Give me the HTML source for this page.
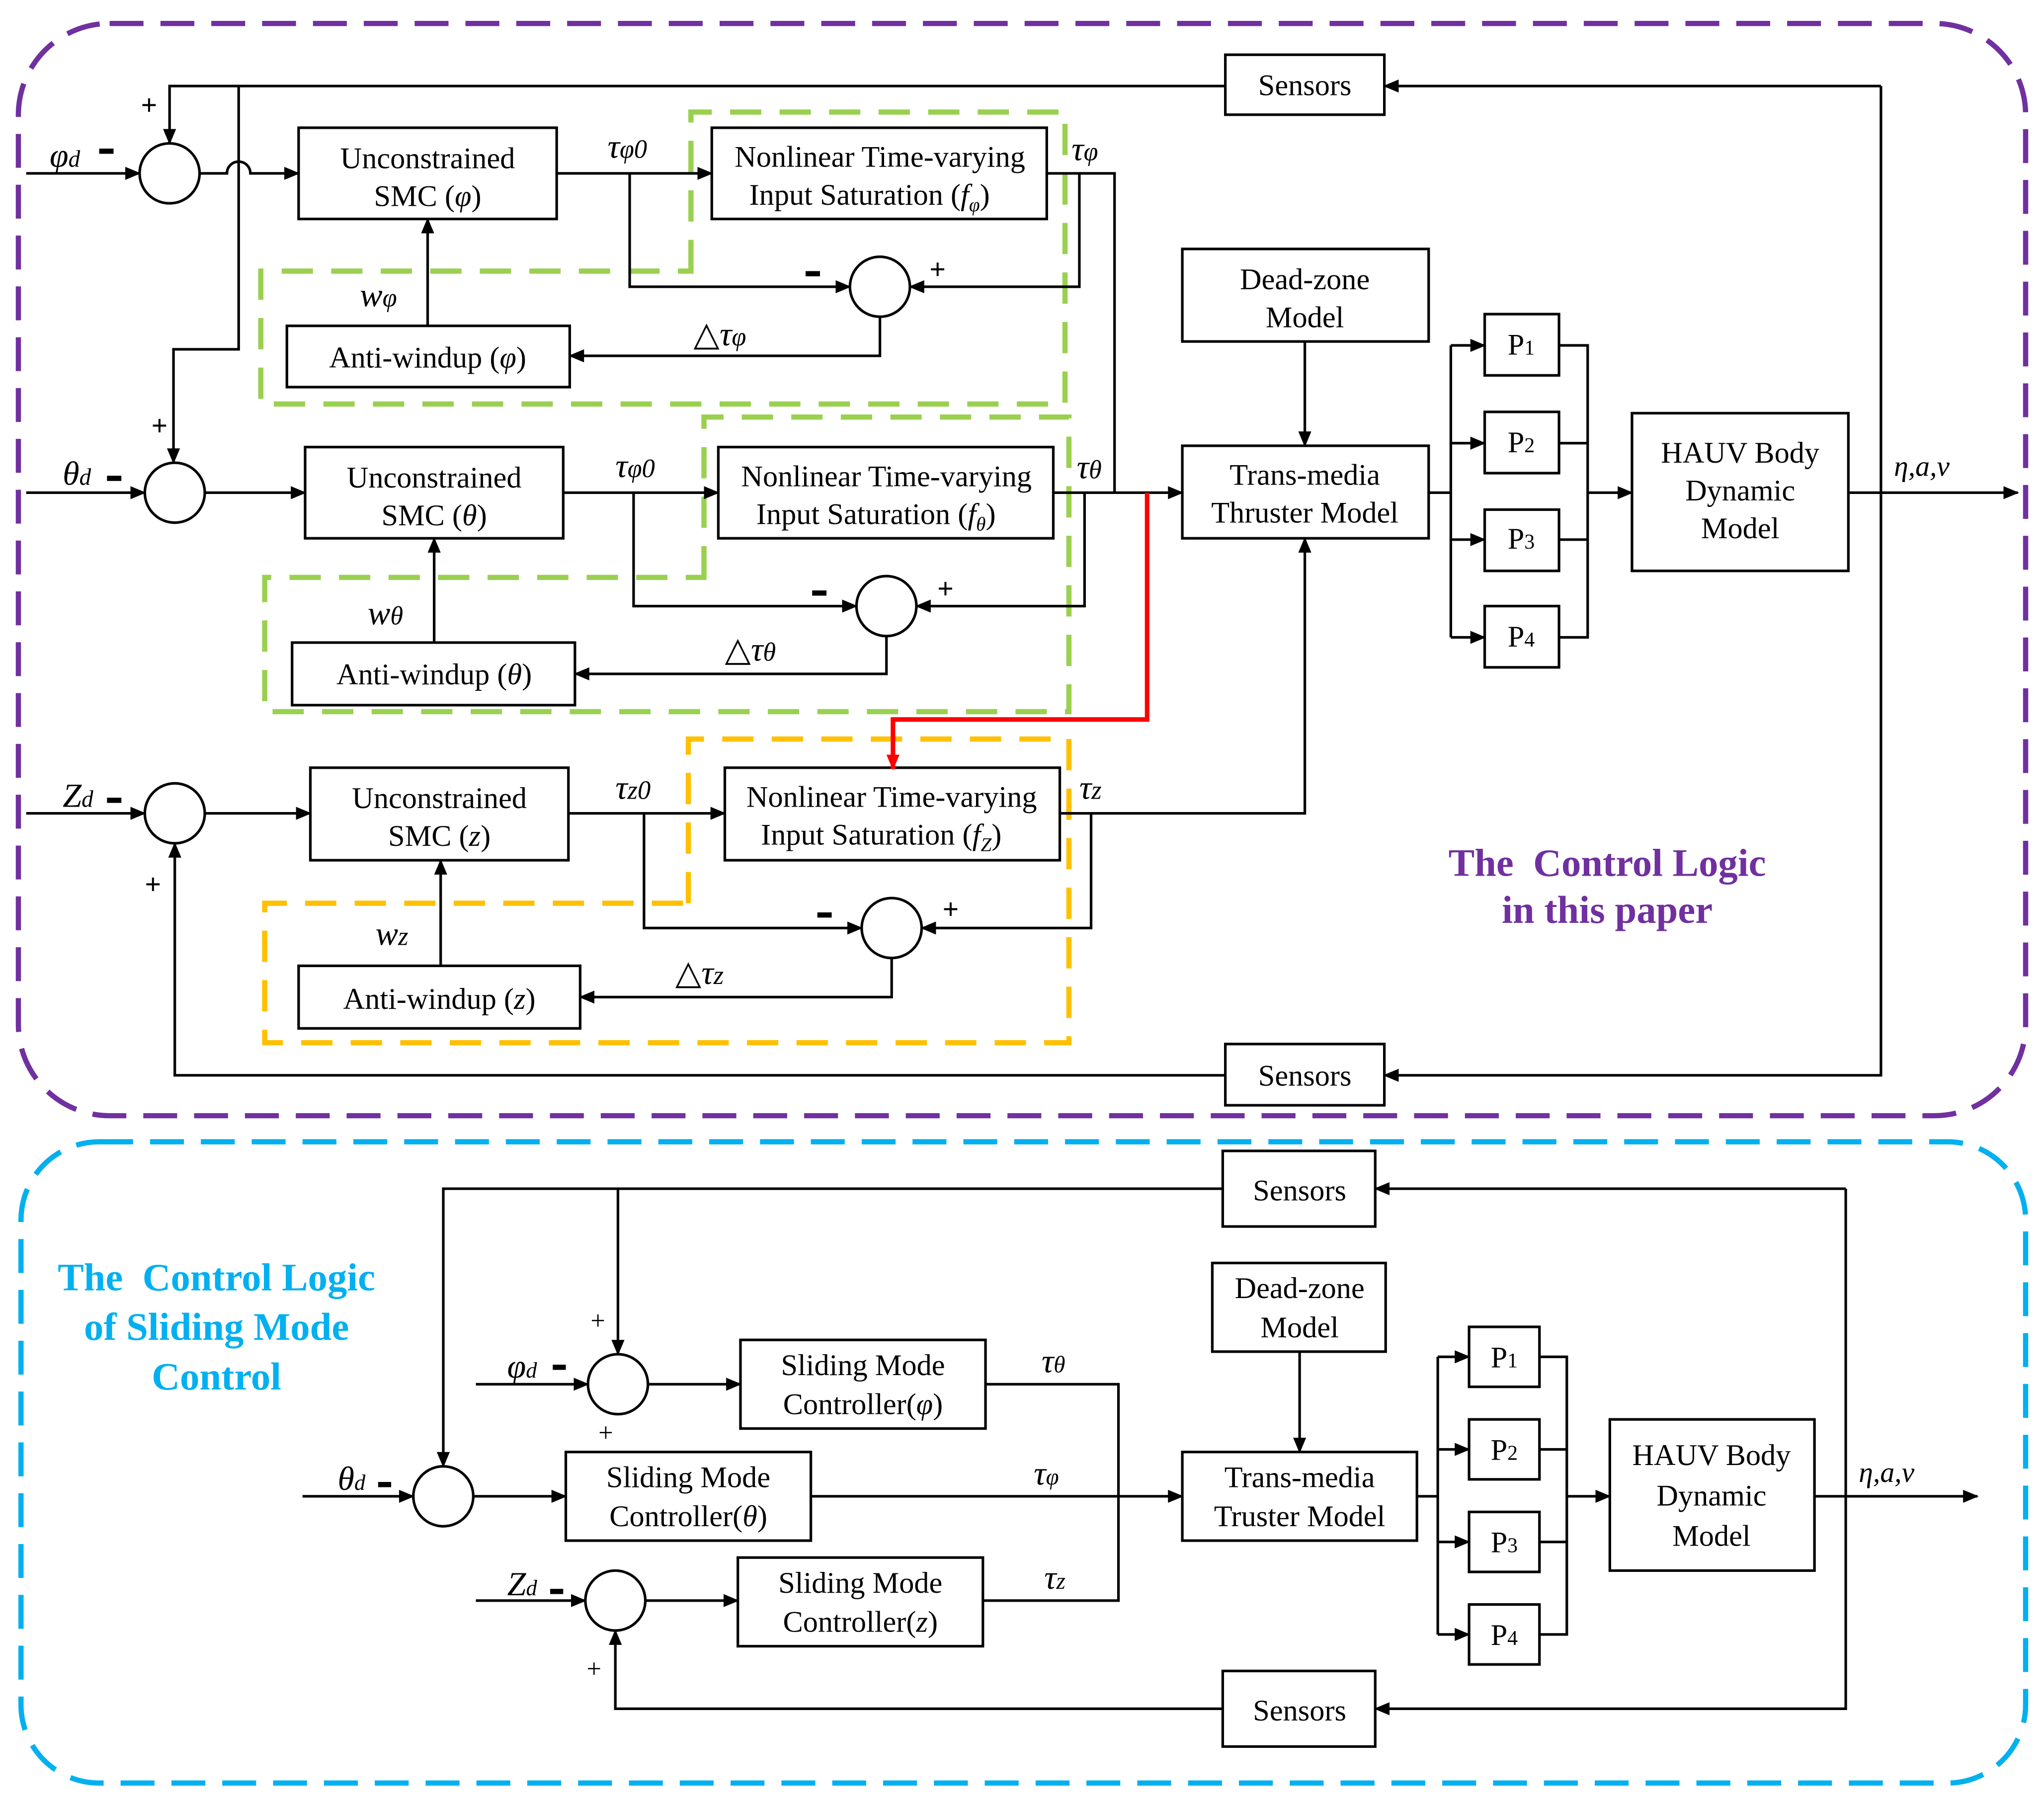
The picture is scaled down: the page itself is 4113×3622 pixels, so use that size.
<!DOCTYPE html>
<html><head><meta charset="utf-8"><style>
html,body{margin:0;padding:0;background:#fff}
svg{display:block}
text{font-family:"Liberation Serif",serif;fill:#000}
.b{font-size:23px}
.i{font-style:italic}
.l{font-size:26px;font-style:italic}
</style></head><body>
<svg width="4113" height="3622" viewBox="0 0 1568 1381" xmlns="http://www.w3.org/2000/svg">
<defs>
<marker id="a" markerUnits="userSpaceOnUse" markerWidth="12" markerHeight="10" refX="11" refY="5" orient="auto"><path d="M0,0 L12,5 L0,10 z" fill="#000"/></marker>
<marker id="ar" markerUnits="userSpaceOnUse" markerWidth="12" markerHeight="10" refX="11" refY="5" orient="auto"><path d="M0,0 L12,5 L0,10 z" fill="#f00"/></marker>
</defs>
<rect x="0" y="0" width="1568" height="1381" fill="#fff"/>
<rect x="14" y="18" width="1540" height="838" rx="70" fill="none" stroke="#7030a0" stroke-width="4" stroke-dasharray="26 13"/>
<rect x="16" y="876" width="1538" height="492" rx="60" fill="none" stroke="#00b0f0" stroke-width="4" stroke-dasharray="26 13"/>

<g fill="none" stroke="#9ad050" stroke-width="4" stroke-dasharray="24 14">
<path d="M530,208 V86 H817 V310 H200 V208 Z"/>
<path d="M540,443 V320 H820 V546 H203 V443 Z"/>
</g>
<path d="M528,693 V567 H820 V800 H203 V693 Z" fill="none" stroke="#ffc000" stroke-width="4" stroke-dasharray="24 14"/>

<g fill="none" stroke="#000" stroke-width="2">
<rect x="940" y="42" width="122" height="46"/>
<rect x="229" y="98" width="198" height="70"/>
<rect x="546" y="98" width="257" height="70"/>
<rect x="220" y="250" width="217" height="47"/>
<rect x="234" y="343" width="198" height="70"/>
<rect x="551" y="343" width="257" height="70"/>
<rect x="224" y="493" width="217" height="48"/>
<rect x="238" y="589" width="198" height="71"/>
<rect x="556" y="589" width="257" height="71"/>
<rect x="229" y="741" width="216" height="48"/>
<rect x="940" y="801" width="122" height="47"/>
<rect x="907" y="191" width="189" height="71"/>
<rect x="907" y="342" width="189" height="71"/>
<rect x="1139" y="241" width="57" height="47"/>
<rect x="1139" y="316" width="57" height="47"/>
<rect x="1139" y="391" width="57" height="47"/>
<rect x="1139" y="465" width="57" height="47"/>
<rect x="1252" y="317" width="166" height="121"/>
<circle cx="130" cy="133" r="23"/>
<circle cx="675" cy="220" r="23"/>
<circle cx="134" cy="378" r="23"/>
<circle cx="680" cy="465" r="23"/>
<circle cx="134" cy="624" r="23"/>
<circle cx="684" cy="712" r="23"/>
<path d="M1443,66 H1062" marker-end="url(#a)"/>
<path d="M940,66 H130 V110" marker-end="url(#a)"/>
<path d="M183,66 V268 H133 V355" marker-end="url(#a)"/>
<path d="M20,133 H107" marker-end="url(#a)"/>
<path d="M153,133 H174 A9,9 0 0 1 192,133 H229" marker-end="url(#a)"/>
<path d="M427,133 H546" marker-end="url(#a)"/>
<path d="M483,133 V220 H652" marker-end="url(#a)"/>
<path d="M803,133 H855 V378"/>
<path d="M828,133 V220 H698" marker-end="url(#a)"/>
<path d="M675,243 V273 H437" marker-end="url(#a)"/>
<path d="M328,250 V168" marker-end="url(#a)"/>
<path d="M20,378 H111" marker-end="url(#a)"/>
<path d="M157,378 H234" marker-end="url(#a)"/>
<path d="M432,378 H551" marker-end="url(#a)"/>
<path d="M486,378 V465 H657" marker-end="url(#a)"/>
<path d="M808,378 H907" marker-end="url(#a)"/>
<path d="M832,378 V465 H703" marker-end="url(#a)"/>
<path d="M680,488 V517 H441" marker-end="url(#a)"/>
<path d="M333,493 V413" marker-end="url(#a)"/>
<path d="M20,624 H111" marker-end="url(#a)"/>
<path d="M157,624 H238" marker-end="url(#a)"/>
<path d="M436,624 H556" marker-end="url(#a)"/>
<path d="M494,624 V712 H661" marker-end="url(#a)"/>
<path d="M813,624 H1001 V413" marker-end="url(#a)"/>
<path d="M837,624 V712 H707" marker-end="url(#a)"/>
<path d="M684,735 V765 H445" marker-end="url(#a)"/>
<path d="M338,741 V660" marker-end="url(#a)"/>
<path d="M1443,66 V825 H1062" marker-end="url(#a)"/>
<path d="M940,825 H134 V647" marker-end="url(#a)"/>
<path d="M1001,262 V342" marker-end="url(#a)"/>
<path d="M1096,378 H1113 M1113,265 V489"/>
<path d="M1113,265 H1139" marker-end="url(#a)"/>
<path d="M1113,340 H1139" marker-end="url(#a)"/>
<path d="M1113,414 H1139" marker-end="url(#a)"/>
<path d="M1113,489 H1139" marker-end="url(#a)"/>
<path d="M1196,265 H1218 V489 H1196 M1196,340 H1218 M1196,414 H1218"/>
<path d="M1218,378 H1252" marker-end="url(#a)"/>
<path d="M1418,378 H1548" marker-end="url(#a)"/>
</g>
<path d="M880,378 V552 H685 V590" fill="none" stroke="#f00" stroke-width="3.5" marker-end="url(#ar)"/>

<g class="b" text-anchor="middle">
<text x="1001" y="73">Sensors</text>
<text x="328" y="129">Unconstrained</text>
<text x="328" y="158">SMC (<tspan class="i">φ</tspan>)</text>
<text x="675" y="128">Nonlinear Time-varying</text>
<text x="667" y="157">Input Saturation (<tspan class="i">f<tspan font-size="15" dy="5">φ</tspan></tspan><tspan dy="-5">)</tspan></text>
<text x="328" y="282">Anti-windup (<tspan class="i">φ</tspan>)</text>
<text x="333" y="374">Unconstrained</text>
<text x="333" y="403">SMC (<tspan class="i">θ</tspan>)</text>
<text x="680" y="373">Nonlinear Time-varying</text>
<text x="672" y="402">Input Saturation (<tspan class="i">f<tspan font-size="15" dy="5">θ</tspan></tspan><tspan dy="-5">)</tspan></text>
<text x="333" y="525">Anti-windup (<tspan class="i">θ</tspan>)</text>
<text x="337" y="620">Unconstrained</text>
<text x="337" y="649">SMC (<tspan class="i">z</tspan>)</text>
<text x="684" y="619">Nonlinear Time-varying</text>
<text x="676" y="648">Input Saturation (<tspan class="i">f<tspan font-size="15" dy="5">Z</tspan></tspan><tspan dy="-5">)</tspan></text>
<text x="337" y="774">Anti-windup (<tspan class="i">z</tspan>)</text>
<text x="1001" y="833">Sensors</text>
<text x="1001" y="222">Dead-zone</text>
<text x="1001" y="251">Model</text>
<text x="1001" y="372">Trans-media</text>
<text x="1001" y="401">Thruster Model</text>
<text x="1167" y="272">P<tspan font-size="16">1</tspan></text>
<text x="1167" y="347">P<tspan font-size="16">2</tspan></text>
<text x="1167" y="421">P<tspan font-size="16">3</tspan></text>
<text x="1167" y="496">P<tspan font-size="16">4</tspan></text>
<text x="1335" y="355">HAUV Body</text>
<text x="1335" y="384">Dynamic</text>
<text x="1335" y="413">Model</text>
</g>
<g class="l">
<text x="38" y="128">φ<tspan font-size="18">d</tspan></text>
<text x="48" y="372">θ<tspan font-size="18">d</tspan></text>
<text x="48" y="619">Z<tspan font-size="18">d</tspan></text>
<text x="466" y="121">τ<tspan font-size="20">φ0</tspan></text>
<text x="472" y="366">τ<tspan font-size="20">φ0</tspan></text>
<text x="472" y="613">τ<tspan font-size="20">z0</tspan></text>
<text x="822" y="123">τ<tspan font-size="20">φ</tspan></text>
<text x="826" y="367">τ<tspan font-size="20">θ</tspan></text>
<text x="828" y="613">τ<tspan font-size="20">z</tspan></text>
<text x="276" y="235">w<tspan font-size="20">φ</tspan></text>
<text x="282" y="479">w<tspan font-size="20">θ</tspan></text>
<text x="288" y="725">w<tspan font-size="20">z</tspan></text>
<text x="532" y="265"><tspan font-style="normal">△</tspan>τ<tspan font-size="20">φ</tspan></text>
<text x="556" y="507"><tspan font-style="normal">△</tspan>τ<tspan font-size="20">θ</tspan></text>
<text x="518" y="755"><tspan font-style="normal">△</tspan>τ<tspan font-size="20">z</tspan></text>
<text x="1453" y="365" font-size="22">η,a,v</text>
</g>
<g fill="#000">
<rect x="76" y="114" width="11" height="4"/>
<rect x="82" y="365" width="11" height="4"/>
<rect x="82" y="612" width="11" height="4"/>
<rect x="618" y="208" width="11" height="4"/>
<rect x="623" y="453" width="11" height="4"/>
<rect x="627" y="700" width="11" height="4"/>
</g>
<g font-size="22" font-weight="bold" font-family="Liberation Sans,sans-serif">
<text x="108" y="88">+</text>
<text x="116" y="334">+</text>
<text x="111" y="686">+</text>
<text x="713" y="214">+</text>
<text x="719" y="459">+</text>
<text x="723" y="705">+</text>
</g>
<g font-family="Liberation Serif,serif" font-weight="bold" font-size="30" text-anchor="middle">
<text x="1233" y="672" style="fill:#7030a0;white-space:pre" xml:space="preserve">The  Control Logic</text>
<text x="1233" y="708" style="fill:#7030a0">in this paper</text>
<text x="166" y="990" style="fill:#00b0f0;white-space:pre" xml:space="preserve">The  Control Logic</text>
<text x="166" y="1028" style="fill:#00b0f0">of Sliding Mode</text>
<text x="166" y="1066" style="fill:#00b0f0">Control</text>
</g>

<g fill="none" stroke="#000" stroke-width="2">
<rect x="938" y="883" width="117" height="58"/>
<rect x="568" y="1028" width="188" height="68"/>
<rect x="434" y="1114" width="188" height="68"/>
<rect x="566" y="1195" width="188" height="68"/>
<rect x="930" y="969" width="133" height="68"/>
<rect x="907" y="1114" width="180" height="68"/>
<rect x="1127" y="1018" width="54" height="46"/>
<rect x="1127" y="1089" width="54" height="46"/>
<rect x="1127" y="1160" width="54" height="46"/>
<rect x="1127" y="1231" width="54" height="46"/>
<rect x="1235" y="1089" width="157" height="116"/>
<rect x="938" y="1282" width="117" height="58"/>
<circle cx="474" cy="1062" r="23"/>
<circle cx="340" cy="1148" r="23"/>
<circle cx="472" cy="1228" r="23"/>
<path d="M1416,912 H1055" marker-end="url(#a)"/>
<path d="M938,912 H340 V1125" marker-end="url(#a)"/>
<path d="M474,912 V1039" marker-end="url(#a)"/>
<path d="M365,1062 H451" marker-end="url(#a)"/>
<path d="M497,1062 H568" marker-end="url(#a)"/>
<path d="M756,1062 H858 V1228 H754"/>
<path d="M232,1148 H317" marker-end="url(#a)"/>
<path d="M363,1148 H434" marker-end="url(#a)"/>
<path d="M622,1148 H907" marker-end="url(#a)"/>
<path d="M365,1228 H449" marker-end="url(#a)"/>
<path d="M495,1228 H566" marker-end="url(#a)"/>
<path d="M997,1037 V1114" marker-end="url(#a)"/>
<path d="M1087,1148 H1103 M1103,1041 V1254"/>
<path d="M1103,1041 H1127" marker-end="url(#a)"/>
<path d="M1103,1112 H1127" marker-end="url(#a)"/>
<path d="M1103,1183 H1127" marker-end="url(#a)"/>
<path d="M1103,1254 H1127" marker-end="url(#a)"/>
<path d="M1181,1041 H1202 V1254 H1181 M1181,1112 H1202 M1181,1183 H1202"/>
<path d="M1202,1148 H1235" marker-end="url(#a)"/>
<path d="M1392,1148 H1517" marker-end="url(#a)"/>
<path d="M1416,912 V1311 H1055" marker-end="url(#a)"/>
<path d="M938,1311 H472 V1251" marker-end="url(#a)"/>
</g>
<g class="b" text-anchor="middle" font-size="24">
<text x="997" y="921">Sensors</text>
<text x="662" y="1055">Sliding Mode</text>
<text x="662" y="1085">Controller(<tspan class="i">φ</tspan>)</text>
<text x="528" y="1141">Sliding Mode</text>
<text x="528" y="1171">Controller(<tspan class="i">θ</tspan>)</text>
<text x="660" y="1222">Sliding Mode</text>
<text x="660" y="1252">Controller(<tspan class="i">z</tspan>)</text>
<text x="997" y="996">Dead-zone</text>
<text x="997" y="1026">Model</text>
<text x="997" y="1141">Trans-media</text>
<text x="997" y="1171">Truster Model</text>
<text x="1154" y="1049">P<tspan font-size="16">1</tspan></text>
<text x="1154" y="1120">P<tspan font-size="16">2</tspan></text>
<text x="1154" y="1191">P<tspan font-size="16">3</tspan></text>
<text x="1154" y="1262">P<tspan font-size="16">4</tspan></text>
<text x="1313" y="1124">HAUV Body</text>
<text x="1313" y="1155">Dynamic</text>
<text x="1313" y="1186">Model</text>
<text x="997" y="1320">Sensors</text>
</g>
<g class="l" font-size="24">
<text x="389" y="1057">φ<tspan font-size="17">d</tspan></text>
<text x="259" y="1143">θ<tspan font-size="17">d</tspan></text>
<text x="389" y="1224">Z<tspan font-size="17">d</tspan></text>
<text x="799" y="1053">τ<tspan font-size="18">θ</tspan></text>
<text x="793" y="1139">τ<tspan font-size="18">φ</tspan></text>
<text x="801" y="1219">τ<tspan font-size="18">z</tspan></text>
<text x="1426" y="1137" font-size="22">η,a,v</text>
</g>
<g fill="#000">
<rect x="424" y="1047" width="10" height="4"/>
<rect x="290" y="1137" width="10" height="4"/>
<rect x="422" y="1219" width="10" height="4"/>
</g>
<g font-size="20" font-family="Liberation Sans,sans-serif">
<text x="453" y="1020">+</text><text x="459" y="1106">+</text>
<text x="450" y="1287">+</text>
</g>
</svg>
</body></html>
